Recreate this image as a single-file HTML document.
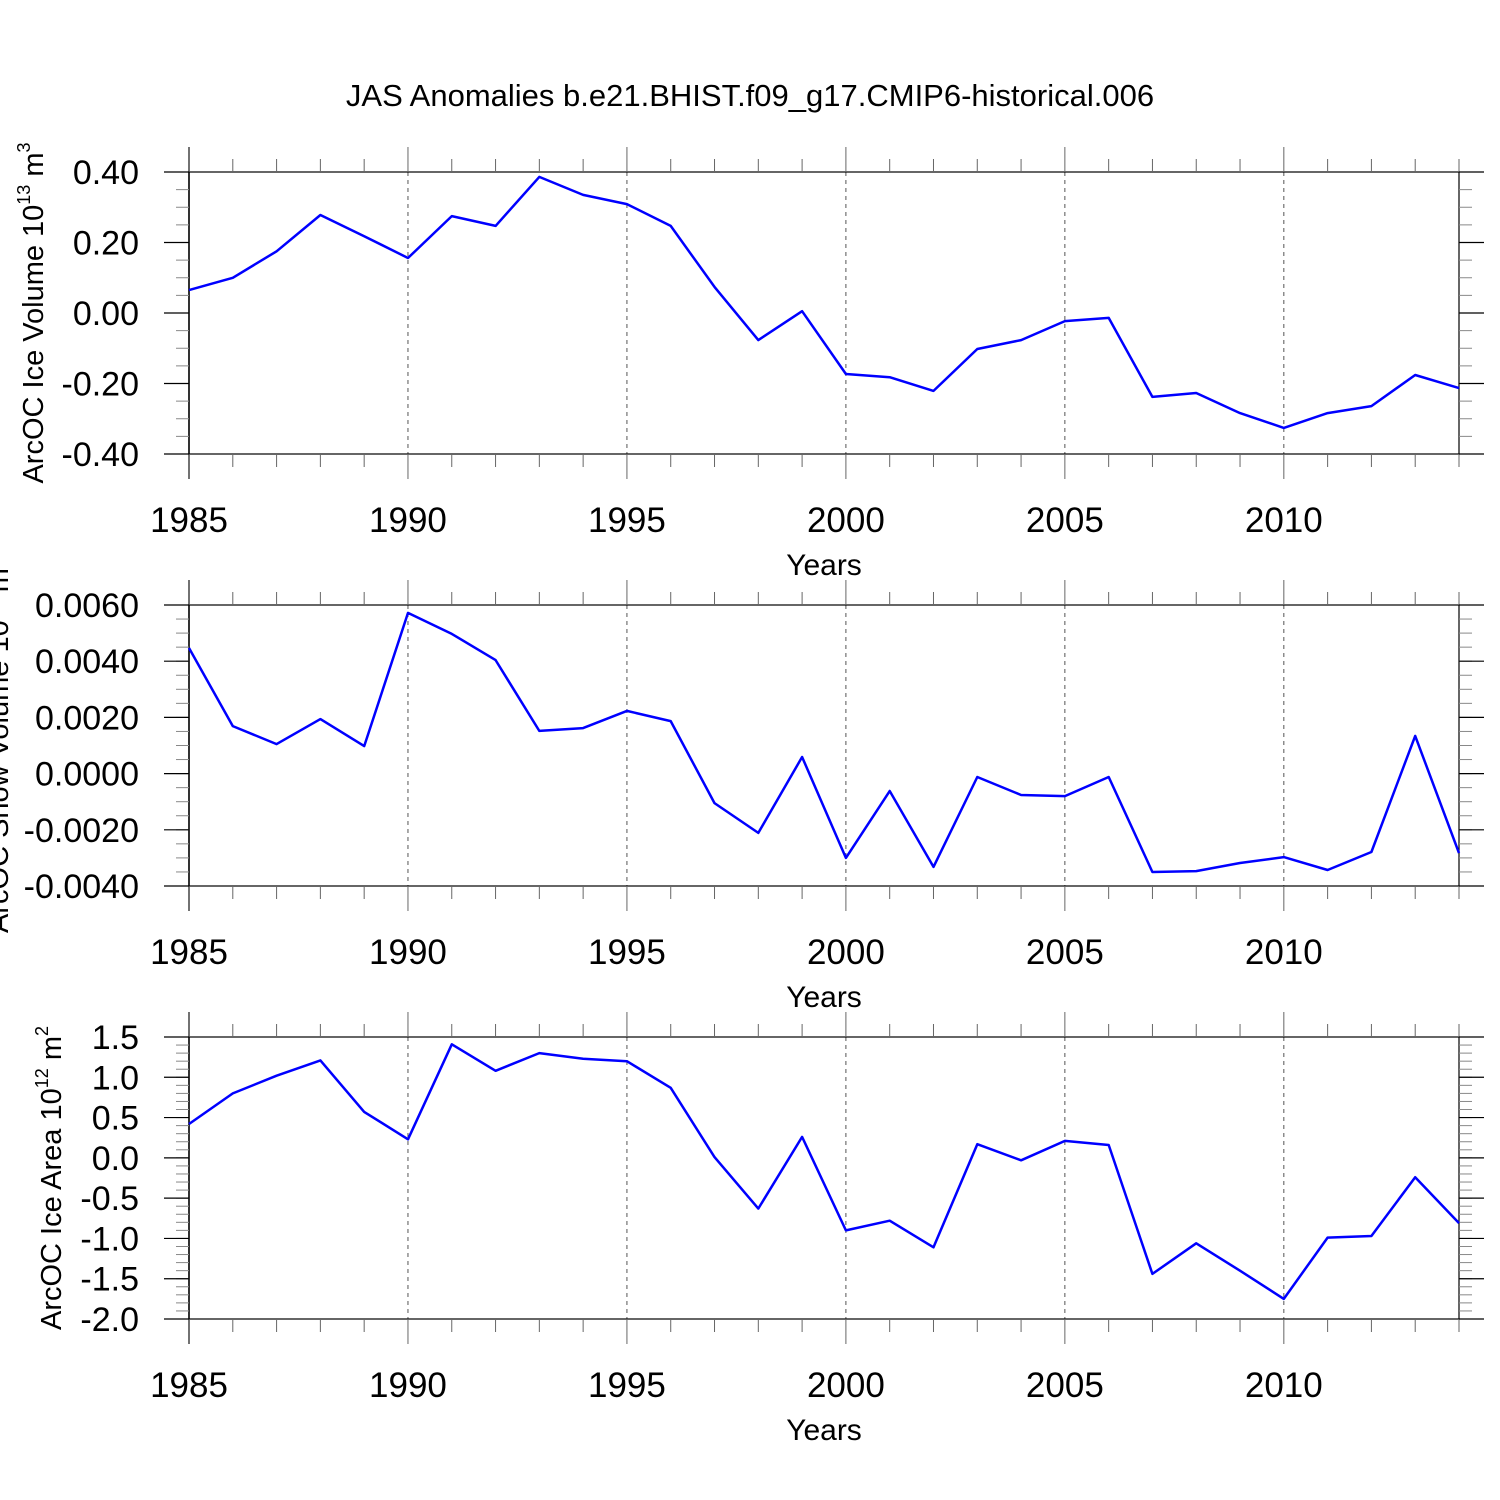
<!DOCTYPE html>
<html><head><meta charset="utf-8"><style>
html,body{margin:0;padding:0;background:#fff}
svg{display:block;font-family:"Liberation Sans",sans-serif}
</style></head><body>
<svg id="chart" width="1500" height="1500" viewBox="0 0 1500 1500">
<text x="750" y="106" font-size="31" text-anchor="middle">JAS Anomalies b.e21.BHIST.f09_g17.CMIP6-historical.006</text>
</svg>
<script>
const years = [1985,1986,1987,1988,1989,1990,1991,1992,1993,1994,1995,1996,1997,1998,1999,2000,2001,2002,2003,2004,2005,2006,2007,2008,2009,2010,2011,2012,2013,2014];
const iceVolume = [0.065,0.10,0.175,0.278,0.218,0.156,0.275,0.247,0.386,0.335,0.309,0.247,0.074,-0.077,0.005,-0.173,-0.182,-0.221,-0.102,-0.077,-0.023,-0.014,-0.238,-0.227,-0.284,-0.326,-0.284,-0.264,-0.176,-0.213];
const snowVolume = [0.00447,0.00169,0.00105,0.00194,0.00098,0.00572,0.00497,0.00404,0.00152,0.00162,0.00223,0.00187,-0.00105,-0.00211,0.00059,-0.0030,-0.00062,-0.00332,-0.00012,-0.00076,-0.0008,-0.00012,-0.0035,-0.00347,-0.00318,-0.00297,-0.00343,-0.00279,0.00134,-0.00283];
const iceArea = [0.42,0.80,1.02,1.21,0.57,0.23,1.41,1.08,1.30,1.23,1.20,0.87,0.01,-0.63,0.26,-0.90,-0.78,-1.11,0.17,-0.03,0.21,0.16,-1.44,-1.06,-1.40,-1.75,-0.99,-0.97,-0.24,-0.81];
const xTickLabels = ["1985","1990","1995","2000","2005","2010"];
const volTicks = ["0.40","0.20","0.00","-0.20","-0.40"];
const snowTicks = ["0.0060","0.0040","0.0020","0.0000","-0.0020","-0.0040"];
const areaTicks = ["1.5","1.0","0.5","0.0","-0.5","-1.0","-1.5","-2.0"];

const NS="http://www.w3.org/2000/svg";
const svg=document.getElementById('chart');
function mk(tag,attrs,parent){const e=document.createElementNS(NS,tag);for(const k in attrs)e.setAttribute(k,attrs[k]);(parent||svg).appendChild(e);return e;}
const X0=189,X1=1459;
const xs=y=>X0+(y-1985)*(X1-X0)/(2014-1985);

function panel(name,top,bot,ymin,ymax,ticks,minorStep,series,titleX,ytitleHtml){
  const g=mk('g',{});
  
  
  const ys=v=>bot-(v-ymin)*(bot-top)/(ymax-ymin);
  xTickLabels.forEach(t=>{const y=+t;if(y>1985){const l=mk('line',{x1:xs(y),x2:xs(y),y1:top,y2:bot,stroke:'#555','stroke-width':1,'stroke-dasharray':'4,4'},g);}});
  mk('rect',{x:X0,y:top,width:X1-X0,height:bot-top,fill:'none',stroke:'#000','stroke-width':1.2},g);
  mk('line',{x1:X0,x2:X0,y1:top-25,y2:bot+25,stroke:'#000','stroke-width':1.5},g);
  years.forEach(y=>{const maj=(y%5===0);const x=xs(y);
    mk('line',{x1:x,x2:x,y1:top,y2:top-(maj?25:13),stroke:'#666','stroke-width':1},g);
    mk('line',{x1:x,x2:x,y1:bot,y2:bot+(maj?25:13),stroke:'#666','stroke-width':1},g);});
  xTickLabels.forEach(t=>{const tx=mk('text',{x:xs(+t),y:bot+78,'font-size':35,'text-anchor':'middle'},g);tx.textContent=t;
    });
  const xt=mk('text',{x:824,y:bot+121,'font-size':30,'text-anchor':'middle'},g);xt.textContent='Years';
  
  for(let v=ymin;v<=ymax+1e-9;v+=minorStep){const y=ys(v);
    mk('line',{x1:X0,x2:X0-13,y1:y,y2:y,stroke:'#888','stroke-width':1},g);
    mk('line',{x1:X1,x2:X1+13,y1:y,y2:y,stroke:'#888','stroke-width':1},g);}
  ticks.forEach(t=>{const y=ys(parseFloat(t));
    mk('line',{x1:X0,x2:X0-25,y1:y,y2:y,stroke:'#000','stroke-width':1.2},g);
    mk('line',{x1:X1,x2:X1+25,y1:y,y2:y,stroke:'#000','stroke-width':1.2},g);
    const tx=mk('text',{x:139,y:y+12,'font-size':34,'text-anchor':'end'},g);tx.textContent=t;
    });
  const pts=years.map((y,i)=>xs(y).toFixed(1)+','+ys(series[i]).toFixed(1)).join(' ');
  const pl=mk('polyline',{points:pts,fill:'none',stroke:'#0000ff','stroke-width':2.5,'stroke-linejoin':'round'},g);
  
  const cy=(top+bot)/2;
  const yt=mk('text',{x:titleX,y:cy,'font-size':29,'text-anchor':'middle',transform:`rotate(-90 ${titleX} ${cy})`},g);
  yt.innerHTML=ytitleHtml;
  
}
panel('panel-ice-volume',172,454,-0.4,0.4,volTicks,0.05,iceVolume,43,'ArcOC Ice Volume 10<tspan dy="-13" font-size="18">13</tspan><tspan dy="13"> m</tspan><tspan dy="-13" font-size="18">3</tspan>');
panel('panel-snow-volume',605,886,-0.004,0.006,snowTicks,0.0005,snowVolume,8,'ArcOC Snow Volume 10<tspan dy="-13" font-size="18">13</tspan><tspan dy="13"> m</tspan><tspan dy="-13" font-size="18">3</tspan>');
panel('panel-ice-area',1037,1319,-2.0,1.5,areaTicks,0.1,iceArea,61,'ArcOC Ice Area 10<tspan dy="-13" font-size="18">12</tspan><tspan dy="13"> m</tspan><tspan dy="-13" font-size="18">2</tspan>');
</script>
</body></html>
